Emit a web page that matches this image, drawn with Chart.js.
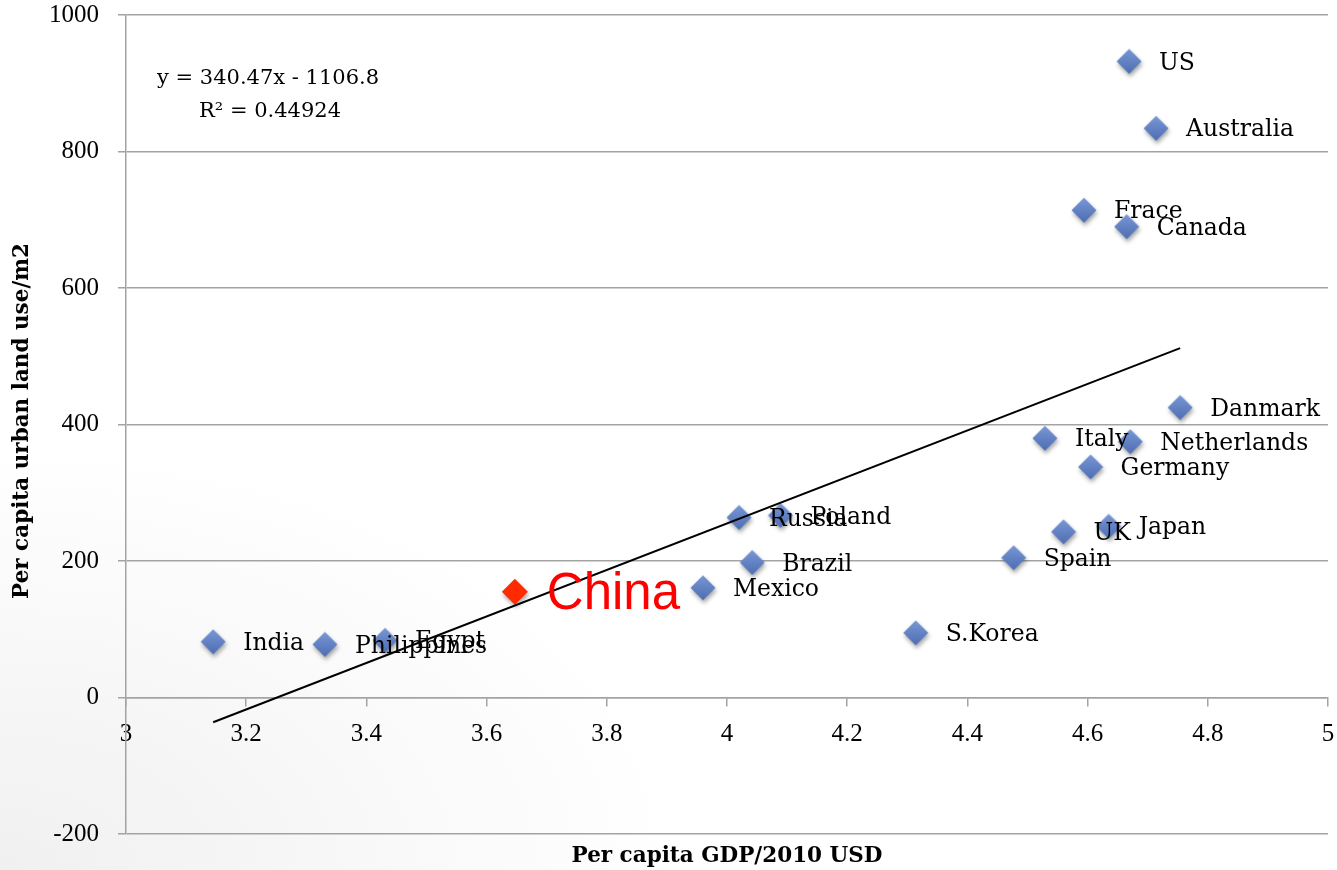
<!DOCTYPE html>
<html>
<head>
<meta charset="utf-8">
<script src="https://cdn.jsdelivr.net/npm/chart.js@4.4.1/dist/chart.umd.min.js"></script>
<style>
html,body{margin:0;padding:0;}
body{width:1337px;height:870px;overflow:hidden;
background:radial-gradient(ellipse 800px 500px at 0% 100%, #f0f0f0 0%, #f8f8f8 45%, #ffffff 85%);}
#wrap{position:relative;width:1337px;height:870px;}
canvas{display:block;}
</style>
</head>
<body>
<div id="wrap"><canvas id="c" width="1337" height="870"></canvas></div>
<script>
// ---- data ----
const countries = ['India','Philippines','Egypt','Mexico','Russia','Poland','Brazil','S.Korea','Spain','UK','Japan','Germany','Italy','Netherlands','Danmark','Frace','Canada','Australia','US'];
const gdp  = [3.145, 3.331, 3.431, 3.960, 4.020, 4.089, 4.042, 4.314, 4.477, 4.560, 4.635, 4.605, 4.529, 4.671, 4.754, 4.594, 4.665, 4.714, 4.669];
const land = [82, 78, 84, 161, 264, 267, 198, 95, 205, 243, 251, 338, 380, 375, 425, 714, 690, 834, 932];

const chinaName = ['China'];
const chinaGdp  = [3.647];
const chinaLand = [155];

const trendX = [3.145, 4.754];
const trendY = [-36, 512];
const equationLines = ['y = 340.47x - 1106.8', 'R\u00B2 = 0.44924'];

const xTickValues = [3, 3.2, 3.4, 3.6, 3.8, 4, 4.2, 4.4, 4.6, 4.8, 5];
const xTickLabels = ['3','3.2','3.4','3.6','3.8','4','4.2','4.4','4.6','4.8','5'];
const yTickValues = [-200, 0, 200, 400, 600, 800, 1000];
const yTickLabels = ['-200','0','200','400','600','800','1000'];

const xTitle = 'Per capita GDP/2010 USD';
const yTitle = 'Per capita urban land use/m2';

// ---- styles ----
const GRID = '#a3a3a3';
const SERIF = '"DejaVu Serif", "Liberation Serif", serif';
const TICKFONT = '"Liberation Serif", "DejaVu Serif", serif';

// gradient diamond marker (used as the point style image)
function makeDiamond(size, c1, c2) {
  const cv = document.createElement('canvas');
  cv.width = size; cv.height = size;
  const g = cv.getContext('2d');
  const h = size / 2;
  const grad = g.createLinearGradient(0, 0, 0, size);
  grad.addColorStop(0, c1);
  grad.addColorStop(1, c2);
  g.fillStyle = grad;
  g.beginPath();
  g.moveTo(h, 0.5);
  g.lineTo(size - 0.5, h);
  g.lineTo(h, size - 0.5);
  g.lineTo(0.5, h);
  g.closePath();
  g.fill();
  return cv;
}
const blueDiamond = makeDiamond(26, '#7898d6', '#4d6db2');

const shadowPlugin = {
  id: 'shadow',
  beforeDatasetDraw(chart, args) {
    const ds = chart.data.datasets[args.index];
    if (ds.showLine) return;
    const ctx = chart.ctx;
    ctx.shadowColor = 'rgba(0,0,0,0.35)';
    ctx.shadowBlur = 4;
    ctx.shadowOffsetX = 1;
    ctx.shadowOffsetY = 3;
  },
  afterDatasetDraw(chart) {
    const ctx = chart.ctx;
    ctx.shadowColor = 'rgba(0,0,0,0)';
    ctx.shadowBlur = 0;
    ctx.shadowOffsetX = 0;
    ctx.shadowOffsetY = 0;
  }
};

const labelPlugin = {
  id: 'labels',
  afterDatasetsDraw(chart) {
    const ctx = chart.ctx;
    ctx.save();
    ctx.textBaseline = 'middle';
    ctx.textAlign = 'left';
    const m0 = chart.getDatasetMeta(0);
    ctx.font = '23.5px ' + SERIF;
    ctx.fillStyle = '#000';
    m0.data.forEach((pt, i) => {
      ctx.fillText(countries[i], pt.x + 30, pt.y + 2);
    });
    const m1 = chart.getDatasetMeta(1);
    ctx.font = '51px "Liberation Sans", Arial, sans-serif';
    ctx.fillStyle = '#ff0000';
    m1.data.forEach((pt, i) => {
      ctx.fillText(chinaName[i], pt.x + 32, pt.y + 3);
    });
    ctx.restore();
  },
  afterDraw(chart) {
    const ctx = chart.ctx;
    ctx.save();
    ctx.fillStyle = '#000';
    ctx.textBaseline = 'middle';
    ctx.textAlign = 'left';
    ctx.font = '21px ' + SERIF;
    ctx.fillText(equationLines[0], 157, 79);
    ctx.fillText(equationLines[1], 199, 112);
    ctx.font = 'bold 21.5px ' + SERIF;
    ctx.translate(22, 421);
    ctx.rotate(-Math.PI / 2);
    ctx.textAlign = 'center';
    ctx.fillText(yTitle, 0, 0);
    ctx.restore();
  }
};

new Chart(document.getElementById('c'), {
  type: 'scatter',
  data: {
    datasets: [
      {
        label: 'Countries',
        data: gdp.map((x, i) => ({x: x, y: land[i]})),
        pointStyle: blueDiamond,
        pointRadius: 13,
        pointHoverRadius: 13,
        backgroundColor: '#5b7ec3',
        borderColor: '#5b7ec3',
        borderWidth: 0,
        order: 2
      },
      {
        label: 'China',
        data: chinaGdp.map((x, i) => ({x: x, y: chinaLand[i]})),
        pointStyle: 'rectRot',
        pointRadius: 13,
        pointHoverRadius: 13,
        backgroundColor: '#ff2a00',
        borderColor: '#ff2a00',
        borderWidth: 0,
        order: 1
      },
      {
        label: 'Trend',
        data: trendX.map((x, i) => ({x: x, y: trendY[i]})),
        showLine: true,
        pointRadius: 0,
        borderColor: '#000',
        borderWidth: 2,
        fill: false,
        order: 0
      }
    ]
  },
  options: {
    responsive: false,
    animation: false,
    devicePixelRatio: 1,
    layout: { autoPadding: false, padding: { top: 15, right: 9, left: 0, bottom: 0 } },
    plugins: {
      legend: { display: false },
      tooltip: { enabled: false },
      title: {
        display: true,
        position: 'bottom',
        fullSize: false,
        text: xTitle,
        color: '#000',
        font: { family: SERIF, size: 21.5, weight: 'bold', lineHeight: 1.2 },
        padding: { top: 9, bottom: 1 }
      }
    },
    scales: {
      x: {
        type: 'linear',
        position: { y: 0 },
        min: 3,
        max: 5,
        afterBuildTicks: s => { s.ticks = xTickValues.map(v => ({value: v})); },
        afterFit: s => { s.height = 0; s.paddingLeft = 0; s.paddingRight = 0; },
        ticks: {
          autoSkip: false,
          maxRotation: 0,
          padding: 14,
          color: '#000',
          font: { family: TICKFONT, size: 25 },
          callback: (v) => { const i = xTickValues.indexOf(v); return i >= 0 ? xTickLabels[i] : ''; }
        },
        grid: { drawOnChartArea: false, drawTicks: true, tickLength: 8, color: GRID, lineWidth: 1.5 },
        border: { display: true, color: GRID, width: 1.5 }
      },
      y: {
        type: 'linear',
        position: 'left',
        min: -200,
        max: 1000,
        afterBuildTicks: s => { s.ticks = yTickValues.map(v => ({value: v})); },
        afterFit: s => { s.width = 126; s.paddingTop = 0; s.paddingBottom = 0; },
        ticks: {
          padding: 19,
          color: '#000',
          font: { family: TICKFONT, size: 25 },
          callback: (v) => { const i = yTickValues.indexOf(v); return i >= 0 ? yTickLabels[i] : ''; }
        },
        grid: { color: GRID, lineWidth: 1.5, tickLength: 8, drawTicks: true },
        border: { display: true, color: GRID, width: 1.5 }
      }
    }
  },
  plugins: [shadowPlugin, labelPlugin]
});
</script>
</body>
</html>
